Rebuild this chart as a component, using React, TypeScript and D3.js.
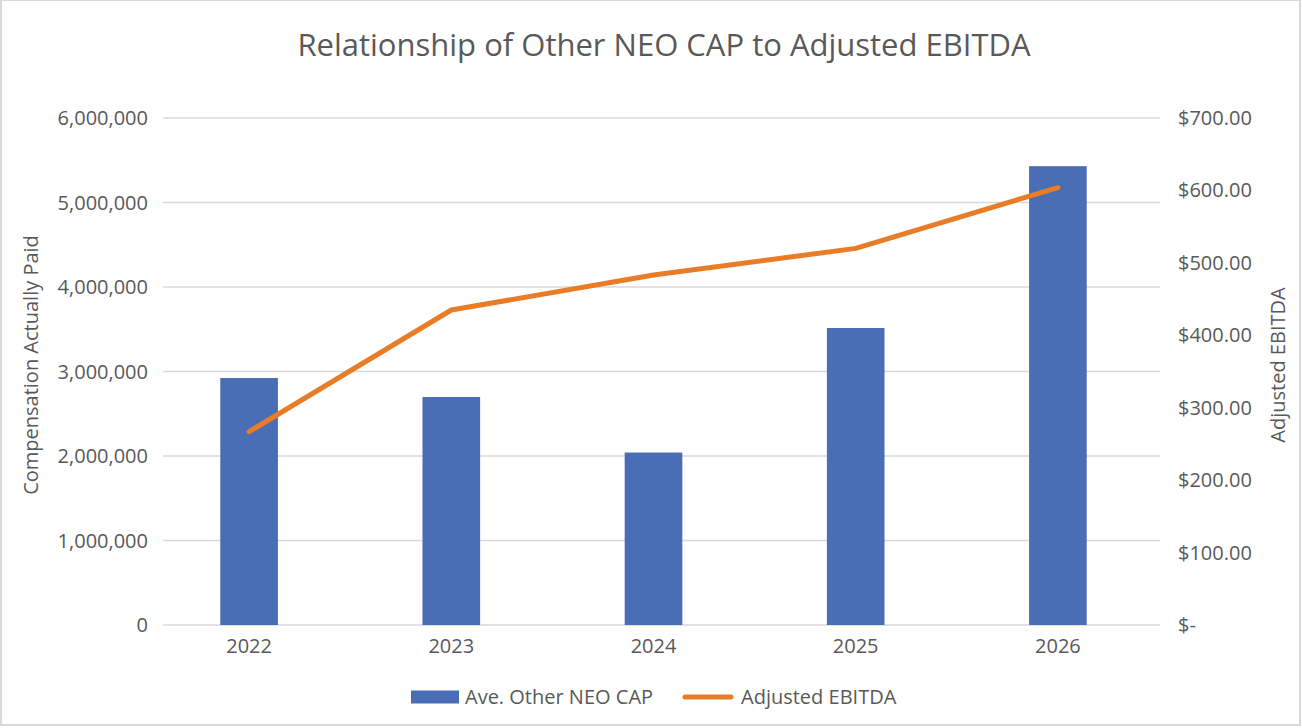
import { useEffect, useRef } from 'react';
import * as d3 from 'd3';

const years = ['2022', '2023', '2024', '2025', '2026'];
const neoCap = [2923000, 2698000, 2041000, 3515000, 5430000];
const ebitda = [266.9, 434.9, 483.2, 520.0, 604.0];
const leftTicks = [0, 1000000, 2000000, 3000000, 4000000, 5000000, 6000000];
const rightTicks = [0, 100, 200, 300, 400, 500, 600, 700];

const W = 1302;
const H = 728;
const FONT = '"Open Sans", "Noto Sans", sans-serif';
const TEXT = '#595959';
const BAR = '#4A6EB5';
const LINE = '#E97D27';

export default function App() {
  const svgRef = useRef<SVGSVGElement>(null);

  useEffect(() => {
    document.body.style.margin = '0';
    if (!svgRef.current) return;

    const svg = d3.select(svgRef.current);
    svg.selectAll('*').remove();

    const plot = { left: 148, right: 1159, top: 118, bottom: 625 };

    // Scales
    const x = d3.scaleBand<string>().domain(years).range([plot.left, plot.right]).paddingInner(0.715).paddingOuter(0.3575);
    const yL = d3.scaleLinear().domain([0, 6000000]).range([plot.bottom, plot.top]);
    const yR = d3.scaleLinear().domain([0, 700]).range([plot.bottom, plot.top]);

    svg.append('rect').attr('width', W).attr('height', H).attr('fill', '#fff');
    svg
      .append('rect')
      .attr('x', 1)
      .attr('y', 0)
      .attr('width', W - 3)
      .attr('height', 725)
      .attr('fill', 'none')
      .attr('stroke', '#D9D9D9')
      .attr('stroke-width', 2);

    // Title
    svg
      .append('text')
      .attr('x', 664)
      .attr('y', 56)
      .attr('text-anchor', 'middle')
      .attr('fill', TEXT)
      .attr('font-family', FONT)
      .attr('font-size', '31px')
      .text('Relationship of Other NEO CAP to Adjusted EBITDA');

    // Grid lines
    svg
      .append('g')
      .selectAll('line')
      .data(leftTicks)
      .enter()
      .append('line')
      .attr('x1', 163)
      .attr('x2', 1160)
      .attr('y1', (d) => yL(d))
      .attr('y2', (d) => yL(d))
      .attr('stroke', '#D9D9D9')
      .attr('stroke-width', 1.5);

    // Left axis labels
    const fmt = d3.format(',');
    svg
      .append('g')
      .selectAll('text')
      .data(leftTicks)
      .enter()
      .append('text')
      .attr('x', 148)
      .attr('y', (d) => yL(d) + 7)
      .attr('text-anchor', 'end')
      .attr('fill', TEXT)
      .attr('font-family', FONT)
      .attr('font-size', '20px')
      .text((d) => fmt(d));

    // Right axis labels
    svg
      .append('g')
      .selectAll('text')
      .data(rightTicks)
      .enter()
      .append('text')
      .attr('x', 1178)
      .attr('y', (d) => yR(d) + 7)
      .attr('fill', TEXT)
      .attr('font-family', FONT)
      .attr('font-size', '20px')
      .text((d) => (d === 0 ? '$-' : `$${d.toFixed(2)}`));

    // Axis titles
    svg
      .append('text')
      .attr('transform', `translate(38,365) rotate(-90)`)
      .attr('text-anchor', 'middle')
      .attr('fill', TEXT)
      .attr('font-family', FONT)
      .attr('font-size', '20px')
      .text('Compensation Actually Paid');
    svg
      .append('text')
      .attr('transform', `translate(1285,365) rotate(-90)`)
      .attr('text-anchor', 'middle')
      .attr('fill', TEXT)
      .attr('font-family', FONT)
      .attr('font-size', '20px')
      .text('Adjusted EBITDA');

    // X labels
    svg
      .append('g')
      .selectAll('text')
      .data(years)
      .enter()
      .append('text')
      .attr('x', (d) => (x(d) || 0) + x.bandwidth() / 2)
      .attr('y', 653)
      .attr('text-anchor', 'middle')
      .attr('fill', TEXT)
      .attr('font-family', FONT)
      .attr('font-size', '20px')
      .text((d) => d);

    // Bars
    svg
      .append('g')
      .selectAll('rect')
      .data(years)
      .enter()
      .append('rect')
      .attr('x', (d) => x(d) || 0)
      .attr('y', (_, i) => yL(neoCap[i]))
      .attr('width', x.bandwidth())
      .attr('height', (_, i) => plot.bottom - yL(neoCap[i]))
      .attr('fill', BAR);

    // Line
    const line = d3
      .line<number>()
      .x((_, i) => (x(years[i]) || 0) + x.bandwidth() / 2)
      .y((d) => yR(d));
    svg
      .append('path')
      .datum(ebitda)
      .attr('fill', 'none')
      .attr('stroke', LINE)
      .attr('stroke-width', 5)
      .attr('stroke-linecap', 'round')
      .attr('stroke-linejoin', 'round')
      .attr('d', line);

    // Legend
    const legend = svg.append('g').attr('transform', 'translate(411,697)');
    legend.append('rect').attr('x', 0).attr('y', -6.5).attr('width', 48).attr('height', 13).attr('fill', BAR);
    legend
      .append('text')
      .attr('x', 54)
      .attr('y', 7)
      .attr('fill', TEXT)
      .attr('font-family', FONT)
      .attr('font-size', '20px')
      .text('Ave. Other NEO CAP');
    legend
      .append('line')
      .attr('x1', 274)
      .attr('x2', 320)
      .attr('y1', 0)
      .attr('y2', 0)
      .attr('stroke', LINE)
      .attr('stroke-width', 5)
      .attr('stroke-linecap', 'round');
    legend
      .append('text')
      .attr('x', 330)
      .attr('y', 7)
      .attr('fill', TEXT)
      .attr('font-family', FONT)
      .attr('font-size', '20px')
      .text('Adjusted EBITDA');
  }, []);

  return <svg ref={svgRef} width={W} height={H} style={{ display: 'block' }} />;
}
